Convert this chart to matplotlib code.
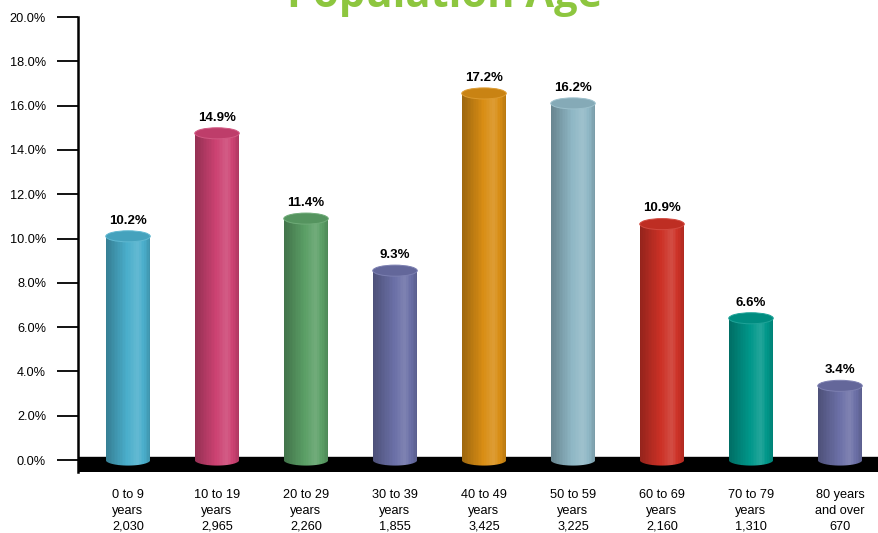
import matplotlib
matplotlib.use("Agg")
import matplotlib.pyplot as plt
import matplotlib.colors as mcolors
from matplotlib.patches import Ellipse, PathPatch
from matplotlib.path import Path
import numpy as np

# ── data ──────────────────────────────────────────────────────────────────
categories = ["0 to 9\nyears", "10 to 19\nyears", "20 to 29\nyears",
              "30 to 39\nyears", "40 to 49\nyears", "50 to 59\nyears",
              "60 to 69\nyears", "70 to 79\nyears", "80 years\nand over"]
counts = ["2,030", "2,965", "2,260", "1,855", "3,425", "3,225",
          "2,160", "1,310", "670"]
pct_labels = ["10.2%", "14.9%", "11.4%", "9.3%", "17.2%", "16.2%",
              "10.9%", "6.6%", "3.4%"]
# bar heights as drawn in the picture (percent)
bar_heights = [10.1, 14.75, 10.9, 8.55, 16.55, 16.1, 10.65, 6.4, 3.35]
bar_colors = ["#4aaecb", "#cc4272", "#5b9f66", "#6a6fa6", "#d88d14",
              "#8fb7c5", "#cc3126", "#00978a", "#6b6fa6"]
yticks = [0, 2, 4, 6, 8, 10, 12, 14, 16, 18, 20]

TITLE_GREEN = "#8dc63f"


def shade(color, f):
    c = np.array(mcolors.to_rgb(color))
    if f < 1:
        c = c * f
    else:
        c = c + (1 - c) * (f - 1)
    return np.clip(c, 0, 1)


fig = plt.figure(figsize=(8.79, 5.33), dpi=100)
ax = fig.add_axes([78 / 879, 1 - 472 / 533, 1 - 78 / 879, (472 - 17) / 533])

x = np.arange(len(categories))
w = 0.5
eh = 0.5           # ellipse height in data units
ax.set_xlim(-0.562, 8.438)
ax.set_ylim(-0.54, 20)

# floor band
ax.axhspan(-0.54, 0.135, color="black", zorder=1)

n_str = 28
for i, (xi, h, col) in enumerate(zip(x, bar_heights, bar_colors)):
    # clip shape: body + rounded bottom
    th = np.linspace(np.pi, 2 * np.pi, 40)
    verts = [(xi - w / 2, h), (xi - w / 2, 0)]
    verts += [(xi + w / 2 * np.cos(t), eh / 2 * np.sin(t)) for t in th]
    verts += [(xi + w / 2, h), (xi - w / 2, h)]
    codes = [Path.MOVETO] + [Path.LINETO] * (len(verts) - 2) + [Path.CLOSEPOLY]
    clip = PathPatch(Path(verts, codes), transform=ax.transData,
                     facecolor="none", edgecolor="none")
    ax.add_patch(clip)
    for j in range(n_str):
        t = (j + 0.5) / n_str
        if t < 0.72:
            f = 0.72 + 0.42 * t / 0.72
        else:
            f = 1.14 - 0.3 * (t - 0.72) / 0.28
        bars = ax.bar(xi - w / 2 + j * w / n_str, h + eh / 2, bottom=-eh / 2,
                      width=w / n_str * 1.02, align="edge",
                      color=shade(col, f), linewidth=0, zorder=3)
        for b in bars:
            b.set_clip_path(clip)
    # top cap
    ax.add_patch(Ellipse((xi, h), w, eh, facecolor=shade(col, 0.93),
                         edgecolor=shade(col, 1.12), linewidth=0.7, zorder=4))
    ax.annotate(pct_labels[i], (xi, h), xytext=(0, 7), textcoords="offset points",
                ha="center", va="bottom", fontsize=9.5, fontweight="bold",
                family=["Liberation Sans Narrow", "Liberation Sans"], zorder=5)

# axes styling
for s in ["top", "right", "bottom"]:
    ax.spines[s].set_visible(False)
ax.spines["left"].set_linewidth(1.8)
ax.set_yticks(yticks)
ax.set_yticklabels([f"{v:.1f}%" for v in yticks], fontsize=9.2,
                   family="Liberation Sans")
ax.tick_params(axis="y", length=15, width=1.3, pad=8)
ax.set_xticks(x)
ax.set_xticklabels([f"{c}\n{n}" for c, n in zip(categories, counts)],
                   fontsize=9.2, family="Liberation Sans", linespacing=1.45)
ax.tick_params(axis="x", length=0, pad=12)

fig.text(445 / 879, 1 - 7 / 533, "Population Age", ha="center", va="baseline",
         fontsize=30, fontweight="bold", color=TITLE_GREEN, family="Open Sans")

fig.savefig("out.png", dpi=100)
